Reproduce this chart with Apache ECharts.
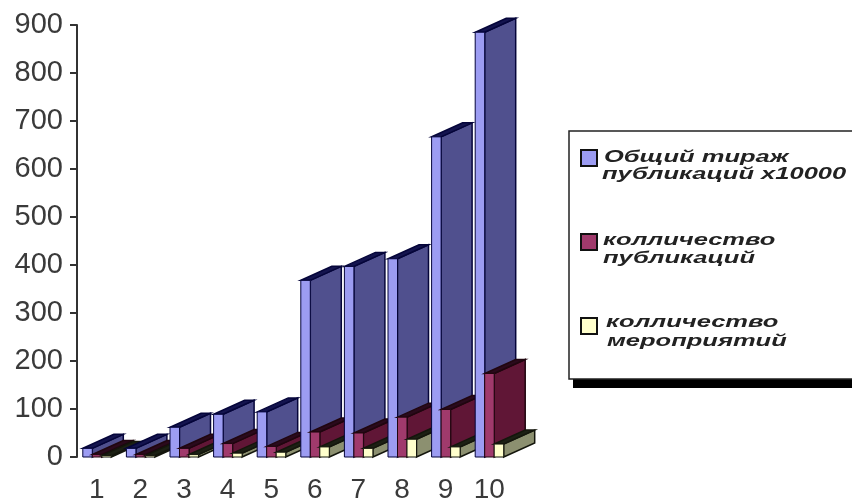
<!DOCTYPE html>
<html><head><meta charset="utf-8">
<style>html,body{margin:0;padding:0;background:#fff}#c{width:852px;height:500px}</style>
<script src="https://cdn.jsdelivr.net/npm/echarts@6/dist/echarts.min.js"></script>
</head><body><div id="c"></div>
<script>
const categories = ['1','2','3','4','5','6','7','8','9','10'];
const yTicks = [0,100,200,300,400,500,600,700,800,900];
const seriesNames = ['Общий тираж публикаций х10000','колличество публикаций','колличество мероприятий'];
const circulation = [18,18,62,89,94,368,397,413,667,885];
const publications = [5,5,18,28,22,52,50,83,99,174];
const events = [3,3,5,8,10,21,18,37,21,27];
const legendLines = [
  ['Общий тираж',604,149],['публикаций х10000',602,166],
  ['колличество',603,232],['публикаций',603,250],
  ['колличество',606,314],['мероприятий',607,333]
];
const palette = [
  {front:'#9c9cf2',side:'#50508e',top:'#14144e',line:'#05053a'},
  {front:'#a03a6c',side:'#601636',top:'#2a0a1c',line:'#20060f'},
  {front:'#ffffcc',side:'#8c9070',top:'#1c2014',line:'#14160c'}
];
const BW=9.5, DX=31, DY=14, START=-14;
function bar3d(si){
  const c=palette[si];
  return function(params,api){
    const i=api.value(0), v=api.value(1);
    const base=api.coord([i,0]), top=api.coord([i,v]);
    const l=base[0]+START+si*BW, r=l+BW, y0=base[1], y1=top[1];
    const z=i*10+si*3;
    const st=(fill,w)=>({fill:fill,stroke:c.line,lineWidth:w});
    return {type:'group',children:[
      {type:'polygon',z2:z,shape:{points:[[r,y0],[r+DX,y0-DY],[r+DX,y1-DY],[r,y1]]},style:st(c.side,1.5)},
      {type:'polygon',z2:z+1,shape:{points:[[l,y1],[r,y1],[r+DX,y1-DY],[l+DX,y1-DY]]},style:st(c.top,1.5)},
      {type:'rect',z2:z+2,shape:{x:l,y:y1,width:BW,height:y0-y1},style:st(c.front,1)}
    ]};
  };
}
const dataSets=[circulation,publications,events];
const series=dataSets.map((arr,si)=>({
  type:'custom',name:seriesNames[si],clip:false,animation:false,silent:true,
  renderItem:bar3d(si),encode:{x:0,y:1},
  itemStyle:{color:palette[si].front,borderColor:'#111',borderWidth:1.5},
  data:arr.map((v,i)=>[i,v])
}));
const chart=echarts.init(document.getElementById('c'),null,{renderer:'canvas'});
chart.setOption({
  animation:false,backgroundColor:'#fff',
  grid:{left:75,top:25,width:436,height:432,containLabel:false,outerBoundsMode:'none'},
  xAxis:{type:'category',data:categories,axisLine:{show:false},axisTick:{show:false},
    axisLabel:{margin:19,fontFamily:'Liberation Sans',fontSize:28,color:'#3a3a3a',interval:0}},
  yAxis:{type:'value',min:0,max:900,interval:100,offset:-2,splitLine:{show:false},
    axisLine:{show:true,lineStyle:{color:'#333',width:2}},
    axisTick:{show:true,length:7,lineStyle:{color:'#333',width:2}},
    axisLabel:{margin:14,fontFamily:'Liberation Sans',fontSize:29,color:'#3a3a3a',
      formatter:v=>String(yTicks[yTicks.indexOf(v)])}},
  legend:{orient:'vertical',left:575,top:144,itemWidth:16,itemHeight:16,itemGap:66,icon:'rect',
    selectedMode:false,formatter:()=>' ',textStyle:{fontSize:1},
    data:seriesNames},
  graphic:[
    {type:'rect',z:1,shape:{x:573,y:379,width:290,height:9},style:{fill:'#000'}},
    {type:'rect',z:2,shape:{x:569,y:131,width:300,height:248},style:{fill:'#fff',stroke:'#222',lineWidth:1.5}}
  ].concat(legendLines.map(t=>({type:'text',z:3,x:t[1],y:t[2],scaleX:1.5,
    style:{text:t[0],font:'italic bold 17px "Liberation Sans"',fill:'#222',textVerticalAlign:'top',
      shadowColor:'rgba(0,0,0,0.55)',shadowBlur:2}}))),
  series:series
});
</script></body></html>
